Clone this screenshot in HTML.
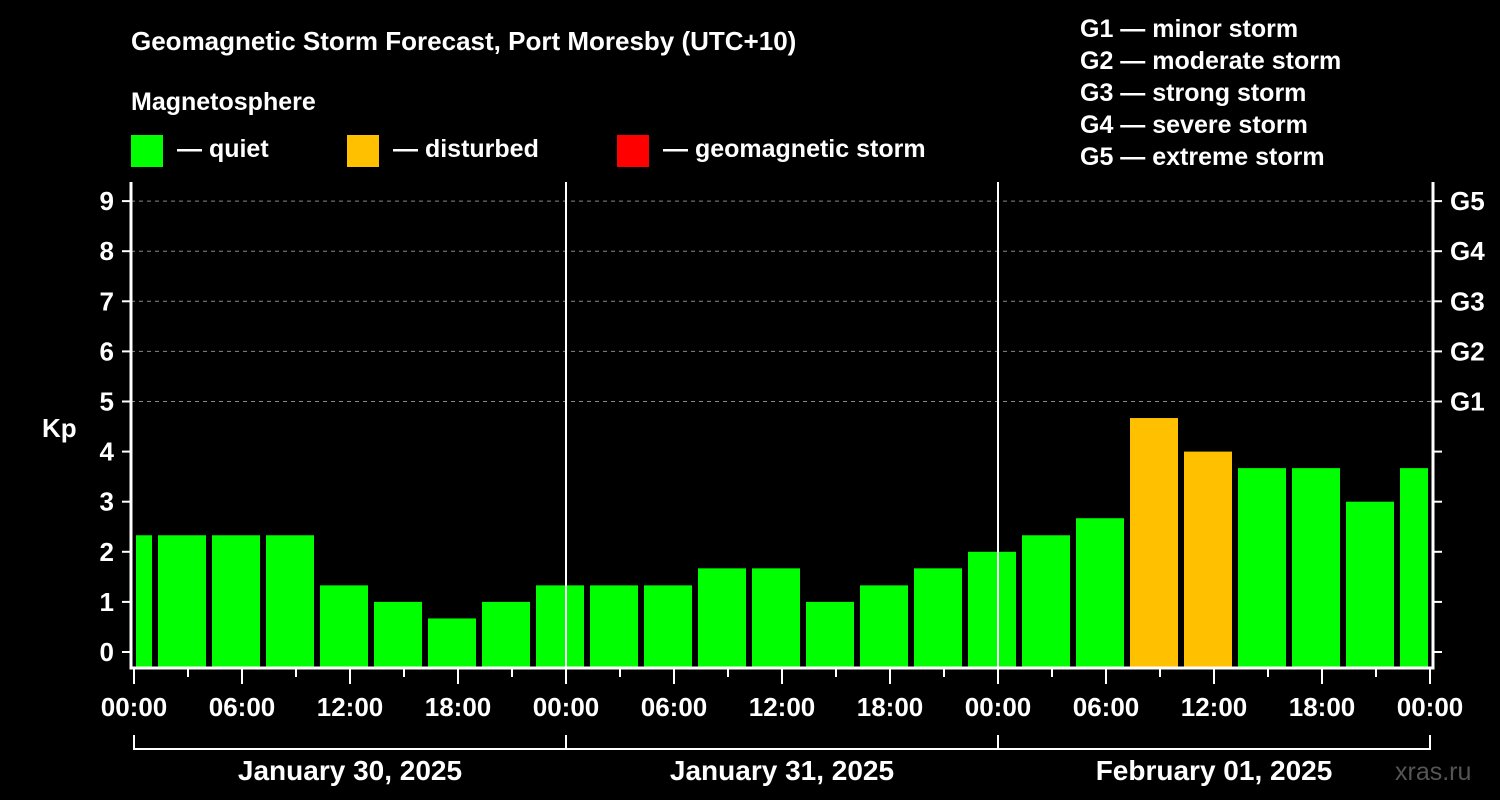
<!DOCTYPE html>
<html><head><meta charset="utf-8"><style>
body{margin:0;background:#000;}
svg{display:block;font-family:"Liberation Sans",Arial,sans-serif;font-weight:bold;}
</style></head><body>
<svg id="chart" width="1500" height="800" viewBox="0 0 1500 800">
<rect width="1500" height="800" fill="#000"/>
<text x="131" y="50" fill="#fff" font-size="26">Geomagnetic Storm Forecast, Port Moresby (UTC+10)</text>
<text x="131" y="110" fill="#fff" font-size="25">Magnetosphere</text>
<g><rect x="131" y="135" width="32" height="32" fill="#00ff00"/><text x="177" y="157" fill="#fff" font-size="25">— quiet</text></g>
<g><rect x="347" y="135" width="32" height="32" fill="#ffc000"/><text x="393" y="157" fill="#fff" font-size="25">— disturbed</text></g>
<g><rect x="617" y="135" width="32" height="32" fill="#ff0000"/><text x="663" y="157" fill="#fff" font-size="25">— geomagnetic storm</text></g>
<g fill="#fff" font-size="25">
<text x="1080" y="37">G1 — minor storm</text>
<text x="1080" y="69">G2 — moderate storm</text>
<text x="1080" y="101">G3 — strong storm</text>
<text x="1080" y="133">G4 — severe storm</text>
<text x="1080" y="165">G5 — extreme storm</text>
</g>
<text x="42" y="437" fill="#fff" font-size="26">Kp</text>
<text x="1395" y="780" fill="#555" font-size="25" font-weight="normal">xras.ru</text>
<g id="grid"></g><g id="bars"></g><g id="axes"></g>
</svg>
<script>
const kpValues=[2.33,2.33,2.33,2.33,1.33,1.0,0.67,1.0,1.33,1.33,1.33,1.67,1.67,1.0,1.33,1.67,2.0,2.33,2.67,4.67,4.0,3.67,3.67,3.0,3.67];
const yTicks=[0,1,2,3,4,5,6,7,8,9];
const gLabels=["G1","G2","G3","G4","G5"];
const xTickLabels=["00:00","06:00","12:00","18:00","00:00","06:00","12:00","18:00","00:00","06:00","12:00","18:00","00:00"];
const dayLabels=["January 30, 2025","January 31, 2025","February 01, 2025"];
const NS="http://www.w3.org/2000/svg";
const L=131,R=1433,T=182,B=668,X0=134,PXH=18;
const y=v=>652-v*50.1;
const x=h=>X0+h*PXH;
function mk(p,tag,a){const e=document.createElementNS(NS,tag);for(const k in a)e.setAttribute(k,a[k]);p.appendChild(e);return e;}
const grid=document.getElementById('grid'),bars=document.getElementById('bars'),axes=document.getElementById('axes');
for(let v=5;v<=9;v++){const l=mk(grid,'line',{x1:L,x2:R,y1:y(v),y2:y(v),stroke:'#888','stroke-dasharray':'4,4','stroke-width':1});

}
kpValues.forEach((v,i)=>{let s=x(-1)+3+i*54-16+1,e=s+48;s=Math.max(s,136);e=Math.min(e,1428);
const c=v>=5?'#ff0000':(v>=4?'#ffc000':'#00ff00');
const r=mk(bars,'rect',{x:s,y:y(v),width:e-s,height:B-y(v),fill:c});

});
// day separators
[24,48].forEach(h=>{const l=mk(axes,'line',{x1:x(h),x2:x(h),y1:T,y2:B,stroke:'#fff','stroke-width':2});

});
const fr=mk(axes,'path',{d:`M${L} ${T}V${B}H${R}V${T}`,stroke:'#fff','stroke-width':3,fill:'none'});


yTicks.forEach(v=>{mk(axes,'line',{x1:122,x2:L,y1:y(v),y2:y(v),stroke:'#fff','stroke-width':2});
mk(axes,'line',{x1:R,x2:1442,y1:y(v),y2:y(v),stroke:'#fff','stroke-width':2});
const t=mk(axes,'text',{x:114,y:y(v)+9,fill:'#fff','font-size':26,'text-anchor':'end'});t.textContent=v;

});
gLabels.forEach((g,i)=>{const t=mk(axes,'text',{x:1450,y:y(5+i)+9,fill:'#fff','font-size':26});t.textContent=g;

});
for(let h=0;h<=72;h+=3){const major=h%6===0;mk(axes,'line',{x1:x(h),x2:x(h),y1:B,y2:major?684:677,stroke:'#fff','stroke-width':2});}
xTickLabels.forEach((s,i)=>{const t=mk(axes,'text',{x:x(i*6),y:716,fill:'#fff','font-size':26,'text-anchor':'middle'});t.textContent=s;

});
mk(axes,'path',{d:`M${x(0)} 735V749H${x(72)}V735M${x(24)} 735V749M${x(48)} 735V749`,stroke:'#fff','stroke-width':2,fill:'none'});
dayLabels.forEach((s,i)=>{const t=mk(axes,'text',{x:x(i*24+12),y:780,fill:'#fff','font-size':28,'text-anchor':'middle'});t.textContent=s;

});
</script>
</body></html>
